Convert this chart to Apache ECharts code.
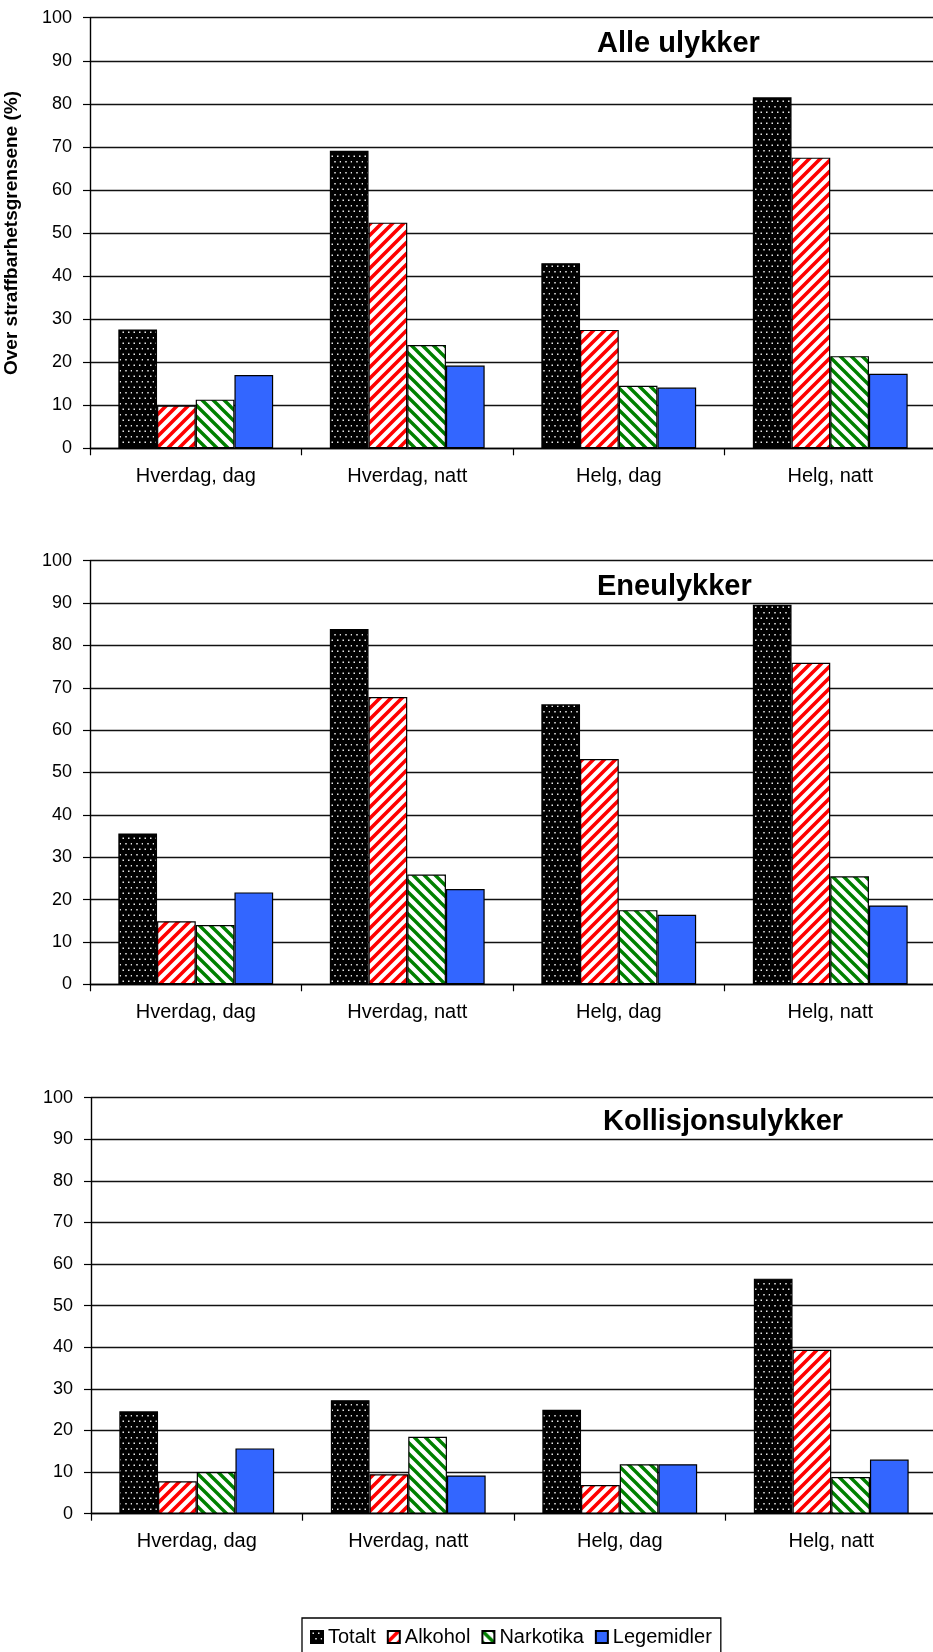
<!DOCTYPE html>
<html>
<head>
<meta charset="utf-8">
<script src="https://cdn.jsdelivr.net/npm/echarts@6/dist/echarts.min.js"></script>
<style>
  html, body { margin: 0; padding: 0; background: #fff; }
  #chart { width: 933px; height: 1652px; }
</style>
</head>
<body>
<div id="chart"></div>
<script>
// Categories, series names and axis ticks
const categories = ['Hverdag, dag', 'Hverdag, natt', 'Helg, dag', 'Helg, natt'];
const seriesNames = ['Totalt', 'Alkohol', 'Narkotika', 'Legemidler'];
const panelTitles = ['Alle ulykker', 'Eneulykker', 'Kollisjonsulykker'];
const yAxisName = 'Over straffbarhetsgrensene (%)';
const yMin = 0, yMax = 100, yStep = 10;

// Alle ulykker (%)
const alleTotalt     = [27.6, 69.1, 43.0, 81.5];
const alleAlkohol    = [9.9, 52.4, 27.5, 67.5];
const alleNarkotika  = [11.3, 24.0, 14.5, 21.4];
const alleLegemidler = [17.0, 19.2, 14.1, 17.3];

// Eneulykker (%)
const eneTotalt      = [35.6, 83.9, 66.1, 89.6];
const eneAlkohol     = [14.9, 67.8, 53.2, 75.9];
const eneNarkotika   = [14.0, 25.9, 17.5, 25.5];
const eneLegemidler  = [21.7, 22.5, 16.4, 18.6];

// Kollisjonsulykker (%)
const kollTotalt     = [24.6, 27.3, 25.0, 56.5];
const kollAlkohol    = [7.8, 9.5, 6.9, 39.4];
const kollNarkotika  = [10.0, 18.5, 11.9, 8.8];
const kollLegemidler = [15.7, 9.2, 11.9, 13.0];

const FONT = '"Liberation Sans", Arial, Helvetica, sans-serif';

// --- fill patterns -------------------------------------------------------
function dotPattern() {
  const c = document.createElement('canvas');
  c.width = 11; c.height = 11;
  const g = c.getContext('2d');
  g.fillStyle = '#000';
  g.fillRect(0, 0, 11, 11);
  g.fillStyle = '#e8e8e8';
  const pts = [[1.5, 1.5], [7, 1.5], [4.25, 7], [9.75, 7]];
  pts.forEach(p => { g.fillRect(p[0], p[1], 1.5, 1.5); });
  return c;
}
function stripePattern(color, rising, width) {
  const P = 11;
  const c = document.createElement('canvas');
  c.width = P; c.height = P;
  const g = c.getContext('2d');
  g.fillStyle = '#fff';
  g.fillRect(0, 0, P, P);
  g.strokeStyle = color;
  g.lineWidth = width;
  g.lineCap = 'square';
  g.beginPath();
  if (rising) {
    g.moveTo(-P, P); g.lineTo(0, 0);
    g.moveTo(0, P); g.lineTo(P, 0);
    g.moveTo(0, 2 * P); g.lineTo(2 * P, 0);
  } else {
    g.moveTo(-P, 0); g.lineTo(P, 2 * P);
    g.moveTo(0, 0); g.lineTo(P, P);
    g.moveTo(0, -P); g.lineTo(2 * P, P);
  }
  g.stroke();
  return c;
}

const fills = [
  { image: dotPattern(), repeat: 'repeat' },
  { image: stripePattern('#ff0000', true, 3.6), repeat: 'repeat' },
  { image: stripePattern('#008000', false, 3.4), repeat: 'repeat' },
  '#3366ff'
];

// --- layout of the three panels ------------------------------------------
const panels = [
  { left: 90, top: 17.7, height: 430.6, data: [alleTotalt, alleAlkohol, alleNarkotika, alleLegemidler] },
  { left: 90, top: 560.7, height: 423.6, data: [eneTotalt, eneAlkohol, eneNarkotika, eneLegemidler] },
  { left: 91, top: 1097.7, height: 416.0, data: [kollTotalt, kollAlkohol, kollNarkotika, kollLegemidler] }
];
const titlePos = [[597, 46], [597, 589], [603, 1124]];

const grid = [], xAxis = [], yAxis = [], series = [], graphic = [];

panels.forEach((p, i) => {
  grid.push({ left: p.left, top: p.top, width: 846, height: p.height,
              containLabel: false, outerBoundsMode: 'none' });
  xAxis.push({
    type: 'category', gridIndex: i, data: categories, boundaryGap: true,
    axisLine: { lineStyle: { color: '#000', width: 1.4 } },
    axisTick: { show: true, length: 7, interval: 0, lineStyle: { color: '#000', width: 1.2 } },
    axisLabel: { color: '#000', fontFamily: FONT, fontSize: 20, margin: 18, interval: 0 },
    splitLine: { show: false }
  });
  yAxis.push({
    type: 'value', gridIndex: i, min: yMin, max: yMax, interval: yStep,
    name: i === 0 ? yAxisName : '',
    nameLocation: 'middle', nameGap: 69, nameRotate: 90,
    nameTextStyle: { color: '#000', fontFamily: FONT, fontSize: 19, fontWeight: 'bold' },
    axisLine: { show: true, lineStyle: { color: '#000', width: 1.4 } },
    axisTick: { show: true, length: 7, lineStyle: { color: '#000', width: 1.2 } },
    axisLabel: { color: '#000', fontFamily: FONT, fontSize: 18, margin: 18 },
    splitLine: { show: true, lineStyle: { color: '#111', width: 1.3 } }
  });
  seriesNames.forEach((name, s) => {
    series.push({
      name: name, type: 'bar', xAxisIndex: i, yAxisIndex: i,
      data: p.data[s],
      barWidth: '18.3%', barGap: '0%',
      itemStyle: { color: fills[s], borderColor: '#000', borderWidth: 1.2 },
      emphasis: { disabled: true },
      animation: false
    });
  });
  graphic.push({
    type: 'text', left: titlePos[i][0], top: titlePos[i][1] - 17,
    style: { text: panelTitles[i], fill: '#000', fontFamily: FONT, fontSize: 29, fontWeight: 'bold' }
  });
});

const chart = echarts.init(document.getElementById('chart'), null, { renderer: 'canvas' });
chart.setOption({
  backgroundColor: '#fff',
  animation: false,
  grid: grid,
  xAxis: xAxis,
  yAxis: yAxis,
  series: series,
  graphic: graphic,
  legend: {
    data: seriesNames,
    left: 302, top: 1618,
    orient: 'horizontal',
    padding: [9, 9, 9, 8],
    itemGap: 11, itemWidth: 12, itemHeight: 12,
    icon: 'rect',
    borderColor: '#000', borderWidth: 1.3,
    backgroundColor: '#fff',
    textStyle: { color: '#000', fontFamily: FONT, fontSize: 20 },
    selectedMode: false
  }
});
</script>
</body>
</html>
